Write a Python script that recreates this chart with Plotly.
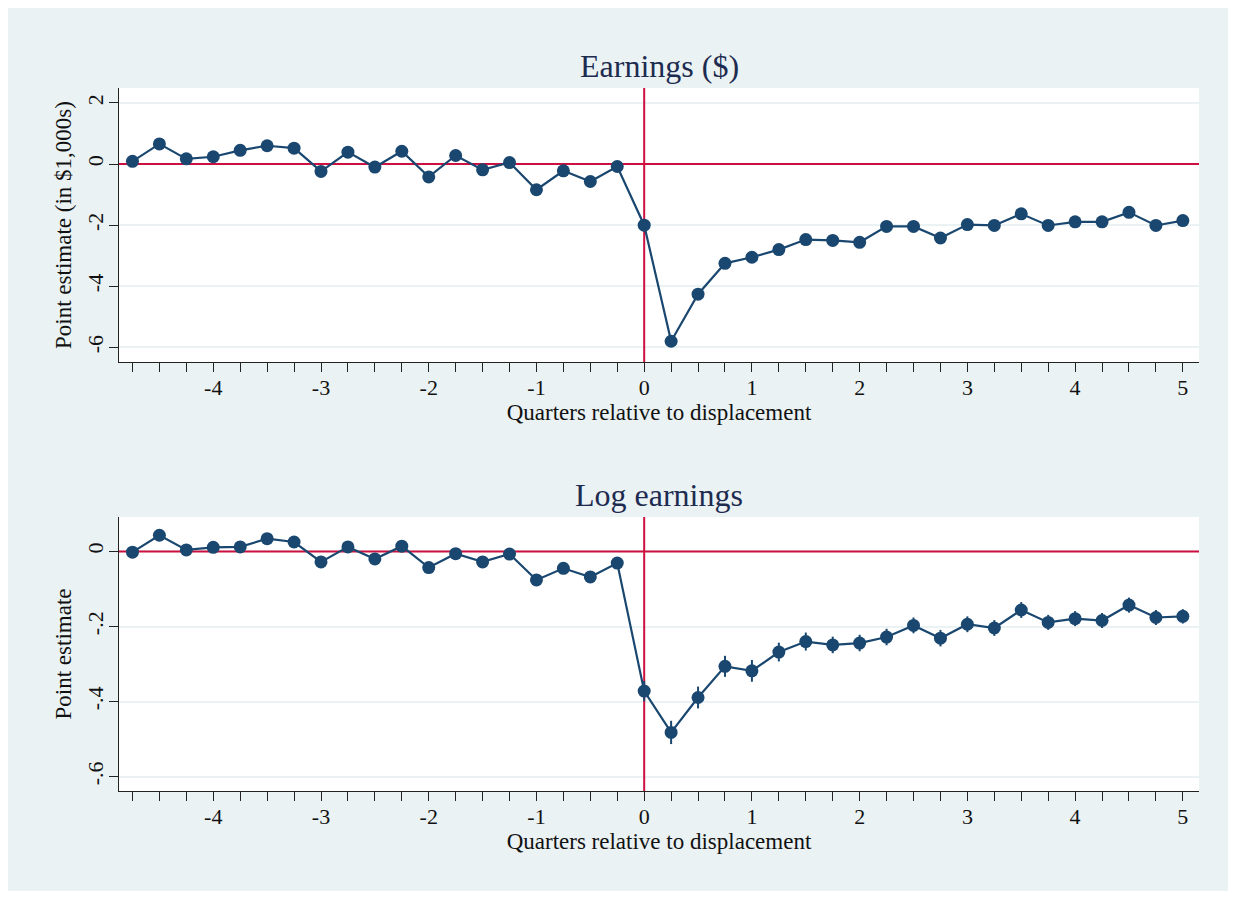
import plotly.graph_objects as go

# ---------------- data ----------------
quarters = [-4.75, -4.5, -4.25, -4.0, -3.75, -3.5, -3.25, -3.0, -2.75, -2.5,
            -2.25, -2.0, -1.75, -1.5, -1.25, -1.0, -0.75, -0.5, -0.25, 0.0,
            0.25, 0.5, 0.75, 1.0, 1.25, 1.5, 1.75, 2.0, 2.25, 2.5,
            2.75, 3.0, 3.25, 3.5, 3.75, 4.0, 4.25, 4.5, 4.75, 5.0]

earnings = [0.09, 0.66, 0.17, 0.24, 0.45, 0.60, 0.52, -0.24, 0.39, -0.10,
            0.42, -0.42, 0.28, -0.19, 0.05, -0.84, -0.22, -0.57, -0.08, -2.00,
            -5.80, -4.26, -3.25, -3.05, -2.80, -2.47, -2.50, -2.56, -2.04, -2.04,
            -2.42, -1.98, -2.01, -1.63, -2.01, -1.89, -1.89, -1.58, -2.01, -1.85]

log_earnings = [-0.002, 0.043, 0.004, 0.011, 0.012, 0.034, 0.025, -0.028, 0.012, -0.020,
                0.014, -0.043, -0.006, -0.028, -0.007, -0.076, -0.045, -0.068, -0.031, -0.372,
                -0.482, -0.389, -0.306, -0.318, -0.268, -0.240, -0.249, -0.244, -0.228, -0.197,
                -0.231, -0.194, -0.204, -0.156, -0.189, -0.179, -0.184, -0.143, -0.176, -0.173]

log_earnings_ci = [0.014, 0.014, 0.014, 0.014, 0.014, 0.014, 0.014, 0.014, 0.014, 0.014,
                   0.014, 0.014, 0.014, 0.014, 0.014, 0.014, 0.014, 0.014, 0.014, 0.027,
                   0.031, 0.029, 0.028, 0.029, 0.025, 0.024, 0.022, 0.022, 0.022, 0.021,
                   0.022, 0.021, 0.021, 0.021, 0.020, 0.020, 0.020, 0.020, 0.020, 0.019]

x_major_ticks = [-4, -3, -2, -1, 0, 1, 2, 3, 4, 5]
x_ticktext = ["-4", "-3", "-2", "-1", "0", "1", "2", "3", "4", "5"]
y1_ticks = [2, 0, -2, -4, -6]
y1_ticktext = ["2", "0", "-2", "-4", "-6"]
y2_ticks = [0, -0.2, -0.4, -0.6]
y2_ticktext = ["0", "-.2", "-.4", "-.6"]

x_range = [-4.875, 5.15]
y1_range = [-6.48, 2.49]
y2_range = [-0.638, 0.0917]

ref_x = 0
ref_y = 0

title1 = "Earnings ($)"
title2 = "Log earnings"
xtitle = "Quarters relative to displacement"
ytitle1 = "Point estimate (in $1,000s)"
ytitle2 = "Point estimate"

# ---------------- style ----------------
NAVY = "#1a476f"
RED = "#cc1040"
BG = "#eaf2f3"
GRID = "#eaf2f3"
TITLE_C = "#1e2b50"
FONT = "Liberation Serif, Times New Roman, serif"
TICK_SIZE = 22
AXT_SIZE = 23
TITLE_SIZE = 32

fig = go.Figure()

# reference lines (drawn first so markers sit on top)
for xa, ya, yr in [("x", "y", y1_range), ("x2", "y2", y2_range)]:
    fig.add_trace(go.Scatter(
        x=[ref_x, ref_x], y=yr, mode="lines", line=dict(color=RED, width=2),
        xaxis=xa, yaxis=ya, showlegend=False, hoverinfo="skip"))
    fig.add_trace(go.Scatter(
        x=x_range, y=[ref_y, ref_y], mode="lines", line=dict(color=RED, width=2),
        xaxis=xa, yaxis=ya, showlegend=False, hoverinfo="skip"))

fig.add_trace(go.Scatter(
    x=quarters, y=earnings, mode="lines+markers",
    line=dict(color=NAVY, width=2.2),
    marker=dict(color=NAVY, size=13),
    xaxis="x", yaxis="y", showlegend=False))

fig.add_trace(go.Scatter(
    x=quarters, y=log_earnings, mode="lines+markers",
    line=dict(color=NAVY, width=2.2),
    marker=dict(color=NAVY, size=13),
    error_y=dict(type="data", array=log_earnings_ci, visible=True,
                 color=NAVY, thickness=2, width=0),
    xaxis="x2", yaxis="y2", showlegend=False))


def xaxis_style(anchor):
    return dict(
        range=x_range, anchor=anchor, showgrid=False, zeroline=False,
        showline=True, linecolor="#222", linewidth=1.4,
        tickvals=x_major_ticks, ticktext=x_ticktext,
        ticks="outside", ticklen=9, tickwidth=1.3, tickcolor="#222",
        ticklabelstandoff=-4,
        minor=dict(dtick=0.25, tick0=0, ticks="outside", ticklen=9,
                   tickwidth=1.3, tickcolor="#222", showgrid=False),
        tickfont=dict(family=FONT, size=TICK_SIZE, color="#111"),
        title=dict(text=xtitle, font=dict(family=FONT, size=AXT_SIZE, color="#111"),
                   standoff=0),
        fixedrange=True)


def yaxis_style(anchor, domain, rng, tv, tt, title):
    return dict(
        domain=domain, range=rng, anchor=anchor, showgrid=True,
        gridcolor=GRID, gridwidth=2, zeroline=False,
        showline=True, linecolor="#222", linewidth=1.4,
        tickvals=tv, ticktext=tt, ticks="outside", ticklen=9, tickwidth=1.3,
        tickcolor="#222", tickangle=-90, ticklabelstandoff=-3,
        tickfont=dict(family=FONT, size=TICK_SIZE, color="#111"),
        title=dict(text=title, font=dict(family=FONT, size=AXT_SIZE, color="#111"),
                   standoff=4),
        fixedrange=True)


fig.update_layout(
    width=1220, height=883,
    margin=dict(l=111, r=29, t=80, b=100),
    paper_bgcolor=BG, plot_bgcolor="white",
    xaxis=xaxis_style("y"),
    yaxis=yaxis_style("x", [0.6102, 1.0], y1_range, y1_ticks, y1_ticktext, ytitle1),
    xaxis2=xaxis_style("y2"),
    yaxis2=yaxis_style("x2", [0.0, 0.3898], y2_range, y2_ticks, y2_ticktext, ytitle2),
    annotations=[
        dict(text=title1, xref="x domain", yref="y domain", x=0.5, y=1.0,
             yshift=2, xanchor="center", yanchor="bottom", showarrow=False,
             font=dict(family=FONT, size=TITLE_SIZE, color=TITLE_C)),
        dict(text=title2, xref="x2 domain", yref="y2 domain", x=0.5, y=1.0,
             yshift=2, xanchor="center", yanchor="bottom", showarrow=False,
             font=dict(family=FONT, size=TITLE_SIZE, color=TITLE_C)),
    ],
)

fig.write_html("out.html")
